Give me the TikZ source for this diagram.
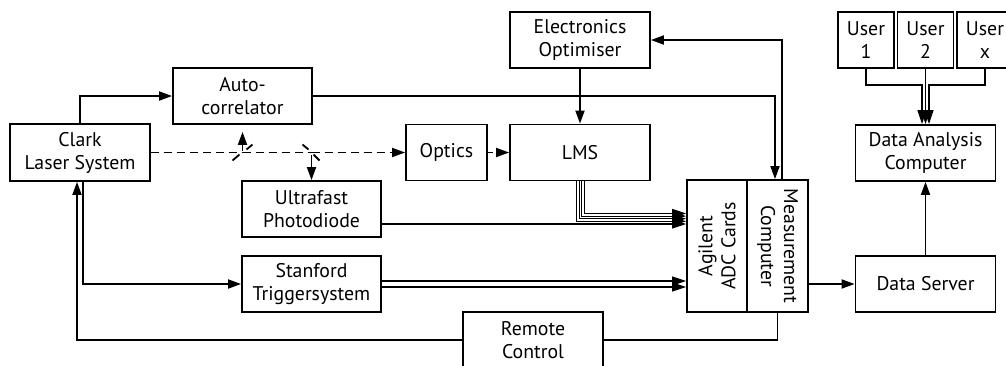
\documentclass[tikz,border=0pt]{standalone}
\usepackage{fontspec}
\setmainfont{PT Sans}
\usetikzlibrary{arrows.meta,calc}
\begin{document}
\begin{tikzpicture}[x=1pt,y=-1pt,
  every node/.style={font=\fontsize{19.8}{23}\selectfont},
  box/.style={draw, line width=1.8pt, align=center, inner sep=0pt, minimum width=140pt, minimum height=56pt},
  arr/.style={line width=1.8pt, -{Triangle[length=13pt,width=9pt]}},
  thinarr/.style={line width=1pt, -{Triangle[length=14pt,width=9pt]}},
  ln/.style={line width=1.8pt},
  beam/.style={line width=1.8pt, dash pattern=on 8pt off 5pt},
]
\useasboundingbox (0,0) rectangle (1006,365);
% nodes
\node[box, minimum height=57pt] (clark) at (80,152.5) {Clark\\Laser System};
\node[box, minimum width=139pt] (auto) at (242.5,96) {Auto-\\correlator};
\node[box] (elec) at (580,40) {Electronics\\Optimiser};
\node[box, minimum width=81pt] (optics) at (446.5,152.5) {Optics};
\node[box] (lms) at (580,152.5) {LMS};
\node[box, minimum width=139pt] (photo) at (311.5,209) {Ultrafast\\Photodiode};
\node[box, minimum width=139pt] (stanford) at (311.5,284) {Stanford\\Triggersystem};
\node[box] (remote) at (533,340) {Remote\\Control};
\node[box, minimum width=60pt, minimum height=132pt] (adc) at (717,246) {};
\node[rotate=90, align=center] (adctxt) at (adc) {Agilent\\ADC Cards};
\node[box, minimum width=61pt, minimum height=132pt] (meas) at (777.5,246) {};
\node[rotate=-90, align=center] (meastxt) at (meas) {Measurement\\Computer};
\node[box] (dserver) at (925.5,284) {Data Server};
\node[box] (dac) at (925.5,153) {Data Analysis\\Computer};
\node[box, minimum width=56pt] (u1) at (866,40) {User\\1};
\node[box, minimum width=56pt] (u2) at (925.5,40) {User\\2};
\node[box, minimum width=56pt] (ux) at (985,40) {User\\x};
% mirrors
\coordinate (m1) at (242.5,152.5);
\coordinate (m2) at (311.5,152.5);
% beam path
\draw[beam] (clark.east) -- (m1);
\draw[beam] (m1) -- (m2);
\draw[beam, -{Triangle[length=13pt,width=9pt]}] (m2) -- (optics.west);
\draw[beam, dash pattern=on 5pt off 3pt, -{Triangle[length=13pt,width=9pt]}] (optics.east) -- (lms.west);
\draw[ln] ($(m1)+(-10,8)$) -- ($(m1)+(-3,2)$);
\draw[ln] ($(m1)+(4,-3)$) -- ($(m1)+(10,-8)$);
\draw[ln] ($(m2)+(-9,-8)$) -- ($(m2)+(-3,-3)$);
\draw[ln] ($(m2)+(2,2)$) -- ($(m2)+(8,8)$);
\draw[arr, shorten >=7pt, shorten <=2pt] (m1) -- (auto.south);
\draw[arr, shorten <=2pt] (m2) -- (photo.north);
% solid connections
\draw[arr] (clark.north) |- (auto.west);
\draw[arr] (auto.east) -| ($(meas.north)+(-2.5,0)$);
\draw[arr] ($(meas.north)+(4.5,0)$) |- (elec.east);
\draw[arr] (elec.south) -- (lms.north);
\foreach \i in {0,...,3}{
  \draw[thinarr] ($(lms.south)+(4.5-2.6*\i,0)$) |- ($(adc.west)+(0,-32.5+2.6*\i)$);
}
\coordinate (p1) at ($(photo.east)+(0,15)$);
\draw[thinarr, line width=1.4pt] (p1) -- (p1 -| adc.west);
\draw[thinarr, line width=1.4pt] ($(stanford.east)+(0,-3)$) -- ($(adc.west)+(0,35)$);
\draw[thinarr, line width=1.4pt] ($(stanford.east)+(0,3)$) -- ($(adc.west)+(0,41)$);
\draw[arr] ($(clark.south)+(3,0)$) |- (stanford.west);
\draw[ln] (meas.south) |- (remote.east);
\draw[arr] (remote.west) -| ($(clark.south)+(-3,0)$);
\draw[arr] ($(meas.east)+(0,38)$) -- (dserver.west);
\draw[arr] (dserver.north) -- (dac.north |- dac.south);
% users
\draw[thinarr, line width=1.3pt] (u1.south) |- ($(dac.north)+(-3.5,-39)$) -- ($(dac.north)+(-3.5,0)$);
\draw[thinarr, line width=1.3pt] (u2.south) -- (dac.north);
\draw[thinarr, line width=1.3pt] (ux.south) |- ($(dac.north)+(3.5,-39)$) -- ($(dac.north)+(3.5,0)$);
\end{tikzpicture}
\end{document}
